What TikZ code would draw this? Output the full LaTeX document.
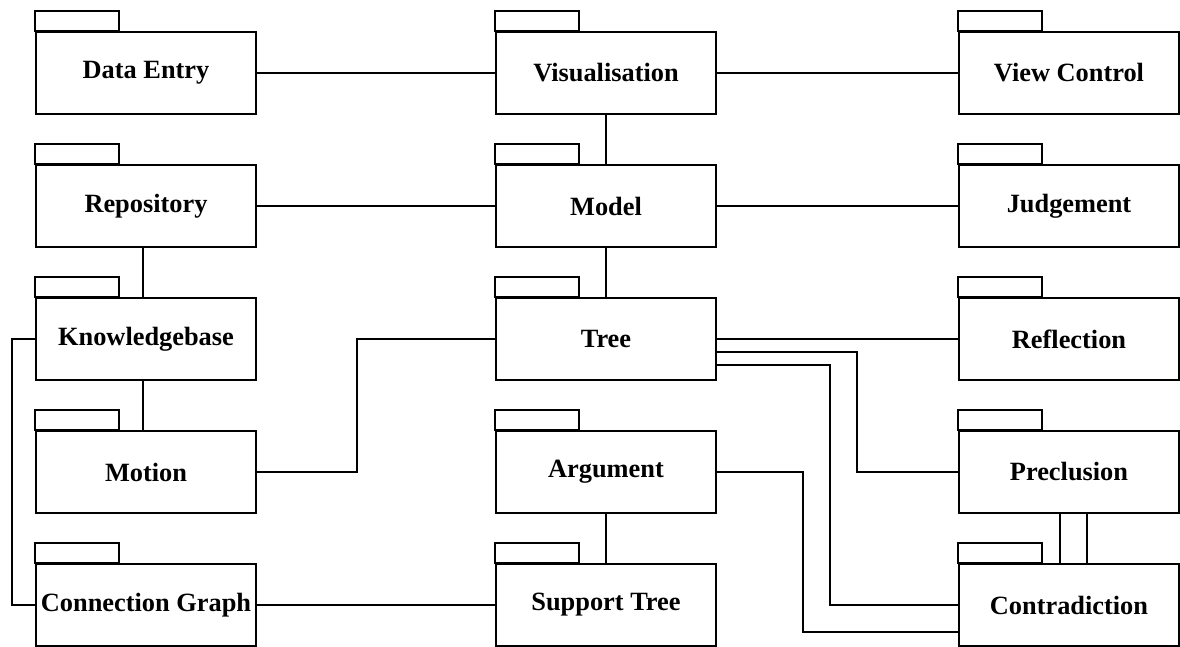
\documentclass[tikz,border=0pt]{standalone}
\usepackage{fontspec}
\setmainfont{Liberation Serif}
\usepackage{tikz}

\begin{document}
\begin{tikzpicture}[line width=1.4pt, pkg/.style={rectangle, draw, minimum width=4.4cm, minimum height=1.64cm, inner sep=0pt, font=\bfseries\fontsize{15}{18}\selectfont}]
\useasboundingbox (0,0) rectangle (23.6,-12.92);
% left column
\node[pkg] (entry) at (2.92, -1.46) {Data Entry};
\node[pkg] (repo) at (2.92, -4.12) {Repository};
\node[pkg] (kb) at (2.92, -6.78) {Knowledgebase};
\node[pkg] (motion) at (2.92, -9.44) {Motion};
\node[pkg] (graph) at (2.92, -12.10) {Connection Graph};
% middle column
\node[pkg] (vis) at (12.12, -1.46) {Visualisation};
\node[pkg] (model) at (12.12, -4.12) {Model};
\node[pkg] (tree) at (12.12, -6.78) {Tree};
\node[pkg] (arg) at (12.12, -9.44) {Argument};
\node[pkg] (support) at (12.12, -12.10) {Support Tree};
% right column
\node[pkg] (view) at (21.38, -1.46) {View Control};
\node[pkg] (judge) at (21.38, -4.12) {Judgement};
\node[pkg] (refl) at (21.38, -6.78) {Reflection};
\node[pkg] (precl) at (21.38, -9.44) {Preclusion};
\node[pkg] (contra) at (21.38, -12.10) {Contradiction};
% tabs
\foreach \p in {entry, repo, kb, motion, graph, vis, model, tree, arg, support, view, judge, refl, precl, contra}
  \draw (\p.north west) rectangle ++(1.68, 0.4);
% connections
\draw (entry) -- (vis);
\draw (vis) -- (view);
\draw (vis) -- (model);
\draw (repo) -- (model);
\draw (model) -- (judge);
\draw (model) -- (tree);
\draw ([xshift=-0.06cm]repo.south) -- ([xshift=-0.06cm]kb.north);
\draw ([xshift=-0.06cm]kb.south) -- ([xshift=-0.06cm]motion.north);
\draw (kb.west) -- ++(-0.46, 0) |- (graph.west);
\draw (motion.east) -- ++(2, 0) |- (tree.west);
\draw (tree) -- (refl);
\draw ([yshift=-0.26cm]tree.east) -- ++(2.8, 0) |- (precl.west);
\draw ([yshift=-0.52cm]tree.east) -- ++(2.26, 0) |- (contra.west);
\draw (arg.east) -- ++(1.72, 0) |- ([yshift=-0.54cm]contra.west);
\draw (arg) -- (support);
\draw (graph) -- (support);
\draw ([xshift=-0.18cm]precl.south) -- ([xshift=-0.18cm]contra.north);
\draw ([xshift=0.36cm]precl.south) -- ([xshift=0.36cm]contra.north);
\end{tikzpicture}
\end{document}
